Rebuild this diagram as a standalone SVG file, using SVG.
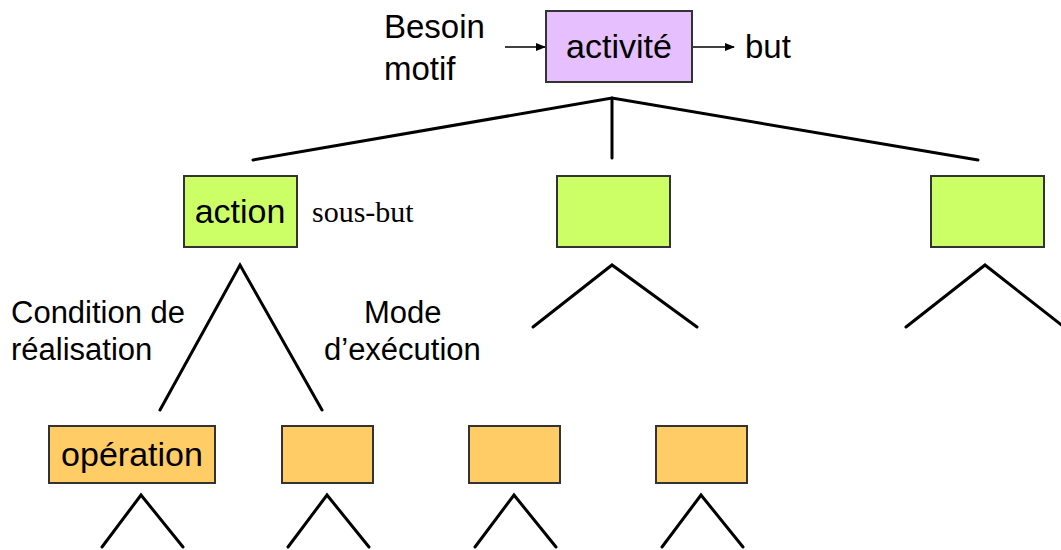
<svg xmlns="http://www.w3.org/2000/svg" width="1061" height="550" viewBox="0 0 1061 550">
<style>
text{font-family:"Liberation Sans",Arial,sans-serif;fill:#000}
.lbl{font-size:31px}
.top{font-size:33px}
.box{font-size:34px;text-anchor:middle}
.serif{font-family:"Liberation Serif","Times New Roman",serif;font-size:30px}
.act{fill:#E6BFFF;stroke:#333;stroke-width:2}
.grn{fill:#CCFF66;stroke:#333;stroke-width:2}
.org{fill:#FFCC66;stroke:#333;stroke-width:2}
.ln{stroke:#000;stroke-width:3;fill:none;stroke-linecap:round}
.ar{stroke:#000;stroke-width:1.5;fill:none}
</style>
<defs>
<marker id="ah" markerWidth="10" markerHeight="8" refX="9" refY="4" orient="auto" markerUnits="userSpaceOnUse">
<path d="M0,0 L10,4 L0,8 z" fill="#000"/>
</marker>
</defs>
<g id="connectors">
<line class="ar" x1="505" y1="47" x2="545" y2="47" marker-end="url(#ah)"/>
<line class="ar" x1="693" y1="47" x2="734" y2="47" marker-end="url(#ah)"/>
<polyline class="ln" points="253,160 612,98 978,160"/>
<line class="ln" x1="612" y1="98" x2="612" y2="158"/>
<polyline class="ln" points="160,410 240,265 322,410"/>
<polyline class="ln" points="533,327 612,265 697,327"/>
<polyline class="ln" points="906,327 985,265 1064,327"/>
<polyline class="ln" points="102,547 141,495 183,547"/>
<polyline class="ln" points="288,547 327,495 369,547"/>
<polyline class="ln" points="475,547 514,495 556,547"/>
<polyline class="ln" points="662,547 701,495 743,547"/>
</g>
<g id="labels">
<text class="top" x="384" y="38">Besoin</text>
<text class="top" x="384" y="80">motif</text>
<text class="top" x="745" y="58">but</text>
<text class="serif" x="312" y="222">sous-but</text>
<text class="lbl" x="11" y="323">Condition de</text>
<text class="lbl" x="11" y="360">réalisation</text>
<text class="lbl" x="364" y="323">Mode</text>
<text class="lbl" x="324" y="360">d’exécution</text>
</g>
<g id="activite">
<rect class="act" x="546" y="11" width="146" height="71"/>
<text class="box" x="619" y="58">activité</text>
</g>
<g id="action1">
<rect class="grn" x="184" y="176" width="113" height="71"/>
<text class="box" x="240" y="223">action</text>
</g>
<g id="action2">
<rect class="grn" x="557" y="176" width="113" height="71"/>
</g>
<g id="action3">
<rect class="grn" x="931" y="176" width="113" height="71"/>
</g>
<g id="operation1">
<rect class="org" x="49" y="426" width="166" height="57"/>
<text class="box" x="132" y="466">opération</text>
</g>
<g id="operation2">
<rect class="org" x="282" y="426" width="91" height="57"/>
</g>
<g id="operation3">
<rect class="org" x="469" y="426" width="91" height="57"/>
</g>
<g id="operation4">
<rect class="org" x="656" y="426" width="91" height="57"/>
</g>
</svg>
